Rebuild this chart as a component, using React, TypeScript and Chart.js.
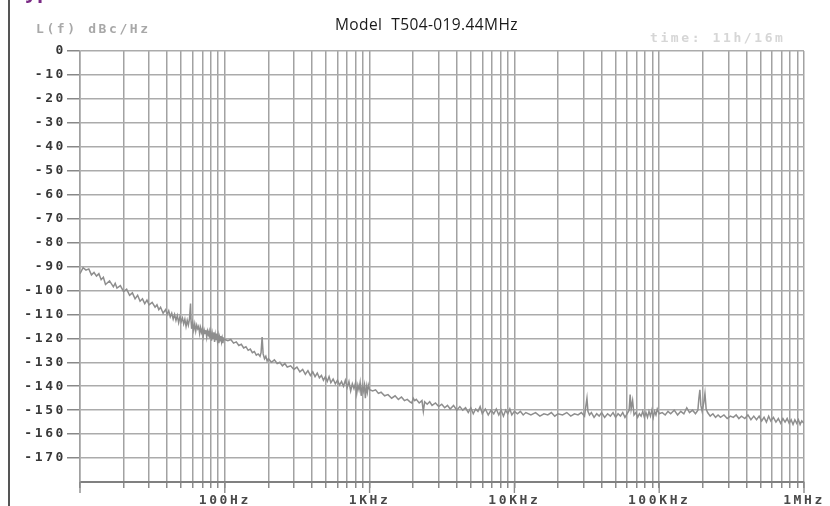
import React, { useEffect, useRef } from 'react';
import { Chart, registerables } from 'chart.js';

Chart.register(...registerables);

const FREQ_HZ = [
  10, 10.5, 11, 11.5, 12, 12.5, 13, 13.5, 14, 14.5, 15, 16, 17, 17.5, 18, 19, 20, 21, 22, 23, 24, 25, 26, 27, 28, 29,
  30, 31.5, 33, 34, 35, 36, 37.5, 39, 40, 41, 42, 43, 44, 45, 46, 47, 48, 49, 50, 51, 52, 53, 54, 55, 56, 57, 58, 58.5,
  59, 60, 61, 62, 63, 64, 65, 66, 67, 68, 69, 70, 71, 72, 73, 74, 75, 76, 77, 78, 79, 80, 81, 82, 83, 84, 85, 86, 87,
  88, 89, 90, 91, 92, 93, 94, 95, 96, 97, 98, 100,
  105, 110, 115, 120, 125, 130, 135, 140, 145, 150, 155, 160, 165, 170, 175, 178, 181, 184, 188, 192, 196, 200, 210,
  220, 230, 240, 250, 260, 270, 285, 300, 315, 330, 345, 360, 375, 390, 405, 420, 435, 450, 465, 480, 495, 510, 525,
  540, 560, 580, 600, 620, 640, 660, 680, 700, 720, 740, 760, 780, 800, 815, 830, 845, 860, 875, 890, 905, 920, 935,
  950, 965, 980, 1000,
  1050, 1100, 1150, 1200, 1270, 1340, 1420, 1500, 1580, 1660, 1740, 1820, 1900, 1960, 2000, 2050, 2100, 2200, 2300,
  2350, 2400, 2500, 2600, 2700, 2850, 3000, 3150, 3300, 3450, 3600, 3800, 4000, 4200, 4400, 4600, 4800, 5000, 5200,
  5400, 5600, 5800, 6000, 6300, 6600, 6900, 7200, 7500, 7800, 8100, 8400, 8700, 9000, 9300, 9600, 10000,
  10500, 11000, 11500, 12000, 13000, 14000, 15000, 16000, 17000, 18000, 19000, 20000, 21500, 23000, 24500, 26000,
  27500, 29000, 30500, 31200, 31700, 32200, 33000, 34000, 35500, 37000, 38500, 40000, 42000, 44000, 46000, 48000,
  50000, 52000, 54000, 56000, 58000, 60000, 62000, 63000, 64000, 65500, 67000, 69000, 71000, 73000, 75000, 77000,
  79000, 81000, 83000, 85000, 87000, 89000, 91000, 93000, 95000, 97000, 100000,
  105000, 110000, 115000, 120000, 127000, 134000, 141000, 148000, 155000, 162000, 170000, 178000, 185000, 188000,
  191000, 194000, 198000, 203000, 207000, 211000, 216000, 225000, 235000, 245000, 255000, 265000, 280000, 295000,
  310000, 325000, 340000, 355000, 370000, 390000, 410000, 430000, 450000, 470000, 490000, 510000, 530000, 550000,
  570000, 590000, 615000, 640000, 665000, 690000, 715000, 740000, 765000, 790000, 815000, 840000, 865000, 890000,
  915000, 940000, 965000, 1000000,
];

const PHASE_NOISE_DBC = [
  -93, -90.5, -91.5, -91, -93.5, -92.5, -94, -93, -95.5, -94.5, -97.5, -96, -98.5, -97, -99, -98, -100.5, -99.5, -102,
  -101, -103.5, -102, -104.5, -103.5, -105.5, -104,
  -106, -105, -107, -106, -108, -107, -109.5, -108, -110, -108.5, -111, -109.5, -112, -110, -112.5, -110.5, -113.5,
  -111, -113, -111.5, -114, -112, -115, -112.5, -114.5, -112, -105.5, -113,
  -116, -113.5, -116.5, -114, -117, -114.5, -116, -115, -118, -115.5, -117.5, -116, -119, -116.5, -118, -116.5,
  -119.5, -117, -118.5, -117, -120, -117.5, -121, -118, -120, -117.5, -121.5, -118.5, -120.5,
  -118, -121, -119, -122, -119.5, -121, -119, -121.5, -120, -122, -120, -120.5,
  -121, -120.5, -122, -121.5, -123, -122.5, -124, -123.5, -125, -124.5, -126, -125.5, -127, -126.5, -127.5, -126,
  -119.5, -126.5, -128.5, -127.5, -129.5, -128.5, -130,
  -129, -130.5, -130, -131.5, -130.5, -132, -131.5, -133, -132, -134, -133, -135, -133.5, -135.5, -134, -136, -134.5,
  -136.5, -135.5, -137.5, -136, -138, -136,
  -138.5, -137, -139, -137.5, -139.5, -138, -140, -137.5, -140.5, -138, -142, -139, -141, -138.5, -143, -139.5,
  -141.5, -138.5, -144, -140, -142, -139.5, -145,
  -140, -142.5, -139.5, -141.5,
  -142, -141.5, -143, -142.5, -144, -143.5, -145, -144, -145.5, -144.5, -146, -145.5, -146.5, -147, -145, -146,
  -145.5, -147, -146,
  -150.5, -146.5, -147.5, -146.5, -148, -147, -148.5, -147.5, -149, -148, -149.5, -148, -150, -148.5, -150, -149,
  -151, -149, -151.5,
  -149.5, -150.5, -148.5, -151.5, -149.5, -152, -150, -151.5, -149.5, -152, -150, -152.5, -150, -151.5, -149.5, -152,
  -150.5,
  -151.5, -150.5, -152, -151, -152, -151, -152.5, -151.5, -152, -151, -152.5, -151.5, -152, -151, -152.5, -151.5,
  -152, -151, -152.5, -148, -145, -150.5, -152, -151, -153, -151.5, -152.5, -151, -153, -151.5, -152.5, -151,
  -153, -151.5, -152.5, -151, -153, -151.5, -150, -143.5, -149.5, -146, -152, -151, -153, -151.5, -152.5, -150.5,
  -153, -151, -153, -150.5, -152.5, -150, -153, -150.5, -152, -149.5, -151.5,
  -151, -152, -150.5, -151.5, -150, -152, -150.5, -151.5, -149, -151, -150, -151.5, -150, -145,
  -141.5, -148, -150.5, -147, -143, -149.5, -151, -152.5, -151.5, -153, -152, -153, -152, -153.5,
  -152.5, -153, -152, -153.5, -152.5, -153.5, -152, -154, -152.5, -154, -152.5, -154.5, -153, -155,
  -152.5, -154.5, -153, -155, -153.5, -155.5, -153.5, -155, -153.5, -155.5, -154, -156, -154, -155.5,
  -154, -156, -154.5, -155.5,
];

// Axis grid / tick values
const X_GRID_HZ = [
  10, 20, 30, 40, 50, 60, 70, 80, 90,
  100, 200, 300, 400, 500, 600, 700, 800, 900,
  1000, 2000, 3000, 4000, 5000, 6000, 7000, 8000, 9000,
  10000, 20000, 30000, 40000, 50000, 60000, 70000, 80000, 90000,
  100000, 200000, 300000, 400000, 500000, 600000, 700000, 800000, 900000,
  1000000,
];
const X_DECADES_HZ = [10, 100, 1000, 10000, 100000, 1000000];
const X_LABEL_VALUES = [100, 1000, 10000, 100000, 1000000];
const X_LABEL_TEXT = ['100Hz', '1KHz', '10KHz', '100KHz', '1MHz'];
const Y_TICK_VALUES = [0, -10, -20, -30, -40, -50, -60, -70, -80, -90, -100, -110, -120, -130, -140, -150, -160, -170, -180];

const MONO = 'DejaVu Sans Mono';
const SPACING = '2.6px';

const letterSpacingPlugin = {
  id: 'letterSpacing',
  beforeDraw(chart: any) {
    chart.ctx.letterSpacing = SPACING;
  },
  afterDraw(chart: any) {
    chart.ctx.letterSpacing = '0px';
  },
};

const majorTickPlugin = {
  id: 'majorTicks',
  afterDraw(chart: any) {
    const s = chart.scales.x;
    const ctx = chart.ctx;
    ctx.save();
    ctx.strokeStyle = '#8c8c8c';
    ctx.lineWidth = 1.4;
    for (const v of X_DECADES_HZ) {
      const px = s.getPixelForValue(v);
      ctx.beginPath();
      ctx.moveTo(px, s.top);
      ctx.lineTo(px, s.top + 11);
      ctx.stroke();
    }
    ctx.restore();
  },
};

export default function App() {
  const canvasRef = useRef<HTMLCanvasElement | null>(null);

  useEffect(() => {
    const canvas = canvasRef.current;
    if (!canvas) return;
    const chart = new Chart(canvas, {
      type: 'line',
      data: {
        datasets: [
          {
            data: FREQ_HZ.map((f, i) => ({ x: f, y: PHASE_NOISE_DBC[i] })),
            borderColor: '#8e8e8e',
            borderWidth: 1.5,
            pointRadius: 0,
            fill: false,
            tension: 0,
          },
        ],
      },
      options: {
        animation: false,
        responsive: false,
        maintainAspectRatio: false,
        layout: { padding: { left: 0, right: 26, top: 51, bottom: 0 } },
        plugins: {
          legend: { display: false },
          tooltip: { enabled: false },
          title: { display: false },
        },
        scales: {
          x: {
            type: 'logarithmic',
            min: 10,
            max: 1000000,
            position: 'bottom',
            afterBuildTicks: (s: any) => {
              s.ticks = X_GRID_HZ.map((v) => ({ value: v }));
            },
            afterFit: (s: any) => {
              s.height = 24;
            },
            grid: { color: '#a2a2a2', lineWidth: 1.5, tickLength: 6, tickColor: '#8c8c8c', drawTicks: true },
            border: { display: true, color: '#808080', width: 2 },
            ticks: {
              autoSkip: false,
              maxRotation: 0,
              minRotation: 0,
              padding: 5,
              color: '#4a4a4a',
              font: { family: MONO, size: 13, weight: 'bold' },
              callback: (v: any) => {
                const i = X_LABEL_VALUES.indexOf(Number(v));
                return i >= 0 ? X_LABEL_TEXT[i] : '';
              },
            },
          },
          y: {
            type: 'linear',
            min: -180,
            max: 0,
            afterBuildTicks: (s: any) => {
              s.ticks = Y_TICK_VALUES.map((v) => ({ value: v }));
            },
            afterFit: (s: any) => {
              s.width = 80;
            },
            grid: {
              color: '#ababab',
              lineWidth: 1.5,
              tickLength: 13,
              tickColor: (c: any) => (c.tick && c.tick.value === -180 ? 'rgba(0,0,0,0)' : '#888'),
            },
            border: { display: true, color: '#a0a0a0', width: 1.5 },
            ticks: {
              padding: 1,
              color: '#383838',
              font: { family: MONO, size: 13, weight: 'bold' },
              callback: (v: any) => (Number(v) === -180 ? '' : String(v)),
            },
          },
        },
      },
      plugins: [letterSpacingPlugin, majorTickPlugin],
    } as any);
    return () => chart.destroy();
  }, []);

  const monoText: React.CSSProperties = {
    position: 'absolute',
    fontFamily: MONO,
    fontWeight: 'bold',
    fontSize: 13,
    letterSpacing: SPACING,
    whiteSpace: 'pre',
    lineHeight: '15px',
  };

  return (
    <div style={{ position: 'fixed', left: 0, top: 0, width: 830, height: 506, overflow: 'hidden', background: '#fff' }}>
      <canvas ref={canvasRef} width={830} height={506} style={{ position: 'absolute', left: 0, top: 0, width: 830, height: 506 }} />
      <div style={{ position: 'absolute', left: 8, top: 0, width: 2, height: 506, background: '#555' }} />
      <div
        style={{
          position: 'absolute',
          left: 14,
          top: -23,
          fontFamily: 'Open Sans',
          fontWeight: 'bold',
          fontSize: 20,
          lineHeight: '27px',
          color: '#7a2a85',
          whiteSpace: 'pre',
        }}
      >
        Typical Phase Noise
      </div>
      <div style={{ ...monoText, left: 36, top: 21, color: '#a8a8a8' }}>L(f) dBc/Hz</div>
      <div style={{ ...monoText, left: 650, top: 30, color: '#d6d6d6' }}>time: 11h/16m</div>
      <div
        style={{
          position: 'absolute',
          left: 335,
          top: 14,
          fontFamily: 'Open Sans',
          fontSize: 15.5,
          letterSpacing: '0.4px',
          lineHeight: '21px',
          color: '#1a1a1a',
          whiteSpace: 'pre',
        }}
      >
        Model  T504-019.44MHz
      </div>
    </div>
  );
}
